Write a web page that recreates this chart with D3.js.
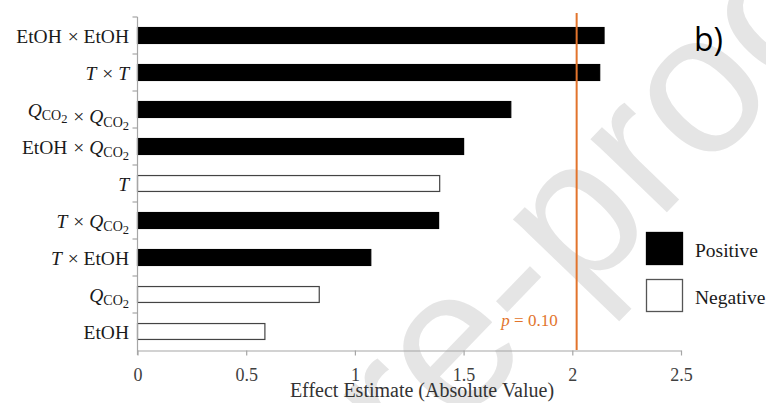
<!DOCTYPE html>
<html>
<head>
<meta charset="utf-8">
<script src="https://cdn.jsdelivr.net/npm/d3@7"></script>
<style>
  html, body { margin: 0; padding: 0; background: #fff; }
  svg { display: block; }
</style>
</head>
<body>
<svg id="chart" width="766" height="403"></svg>
<script>
// Pareto-style chart of effect estimates (absolute value), top to bottom
const terms = ["EtOH×EtOH", "T×T", "Q×Q", "EtOH×Q", "T", "T×Q", "T×EtOH", "Q", "EtOH"];
const effects = [2.146, 2.126, 1.717, 1.50, 1.39, 1.385, 1.073, 0.836, 0.586];
const signs = ["Positive", "Positive", "Positive", "Positive", "Negative", "Positive", "Positive", "Negative", "Negative"];
const xTicks = [0, 0.5, 1, 1.5, 2, 2.5];
const xTickLabels = ["0", "0.5", "1", "1.5", "2", "2.5"];
const threshold = 2.02;          // effect value at p = 0.10
const legendItems = ["Positive", "Negative"];

const svg = d3.select("#chart");
const orange = "#E2742C";
const serifStack = "'Liberation Serif', Tinos, 'DejaVu Serif', serif";
const labelSize = 19.5;

// faint diagonal watermark behind everything
svg.append("text")
  .style("font-family", "'Liberation Sans', Arial, sans-serif")
  .attr("transform", "translate(360,530) rotate(-46)")
  .attr("text-anchor", "middle")
  .attr("font-size", 200)
  .attr("fill", "#e5e5e5")
  .text("Journal Pre-proof");

const x = d3.scaleLinear().domain([0, 2.5]).range([137.5, 681]);
const y = d3.scaleBand().domain(terms).range([17, 350]).paddingInner(0.57).paddingOuter(0.285);

// bars
svg.append("g").selectAll("rect").data(terms).join("rect")
  .attr("x", x(0))
  .attr("y", d => y(d))
  .attr("width", (d, i) => x(effects[i]) - x(0))
  .attr("height", y.bandwidth())
  .attr("fill", (d, i) => signs[i] === "Positive" ? "#000" : "#fff")
  .attr("stroke", (d, i) => signs[i] === "Positive" ? "#000" : "#444")
  .attr("stroke-width", 1.2);

// x axis
const xAxis = svg.append("g")
  .attr("transform", `translate(0,${350.5})`)
  .call(d3.axisBottom(x).tickValues(xTicks).tickFormat((d, i) => xTickLabels[i]).tickSize(5).tickSizeOuter(0));
xAxis.attr("font-family", serifStack).attr("font-size", 18);
xAxis.select(".domain").attr("stroke", "#a6a6a6").attr("stroke-width", 1.2);
xAxis.selectAll(".tick line").attr("stroke", "#a6a6a6").attr("stroke-width", 1.2);
xAxis.selectAll(".tick text")
  .style("font-family", serifStack).attr("fill", "#404040").attr("dy", "1.25em");

// y axis: ticks at category boundaries
const boundaries = d3.range(terms.length + 1).map(i => 17 + i * y.step());
const yLine = svg.append("g");
yLine.append("line")
  .attr("x1", x(0)).attr("x2", x(0))
  .attr("y1", boundaries[0]).attr("y2", 355)
  .attr("stroke", "#a6a6a6").attr("stroke-width", 1.2);
yLine.selectAll("line.tk").data(boundaries.slice(0, -1)).join("line")
  .attr("class", "tk")
  .attr("x1", x(0) - 5).attr("x2", x(0))
  .attr("y1", d => d).attr("y2", d => d)
  .attr("stroke", "#a6a6a6").attr("stroke-width", 1.2);

// category labels with italic symbols and subscripts
const labels = svg.append("g")
  .style("font-family", serifStack)
  .attr("font-size", labelSize).attr("fill", "#1a1a1a")
  .attr("text-anchor", "end");

function addQ(t) {
  t.append("tspan").attr("font-style", "italic").text("Q");
  t.append("tspan").attr("font-size", 14).attr("dy", 3.5).text("CO");
  t.append("tspan").attr("font-size", 12.5).attr("dy", 3).text("2");
  t.append("tspan").attr("font-size", labelSize).attr("dy", -6.5).text("");
}
function addPart(t, p) {
  if (p === "Q") addQ(t);
  else if (p === "T") t.append("tspan").attr("font-style", "italic").text("T");
  else t.append("tspan").text(p);
}

terms.forEach(term => {
  const t = labels.append("text")
    .attr("x", 129)
    .attr("y", y(term) + y.bandwidth() / 2 + 7);
  const parts = term.split("×");
  parts.forEach((p, k) => {
    if (k > 0) t.append("tspan").attr("dx", 1).text(" × ").append("tspan").attr("dx", 1).text("");
    addPart(t, p);
  });
});

// threshold line at p = 0.10
svg.append("line")
  .attr("x1", x(threshold)).attr("x2", x(threshold))
  .attr("y1", 13).attr("y2", 350)
  .attr("stroke", orange).attr("stroke-width", 2);
const pl = svg.append("text")
  .style("font-family", serifStack)
  .attr("x", x(threshold) - 19).attr("y", 326)
  .attr("text-anchor", "end")
  .attr("font-size", 17).attr("fill", orange);
pl.append("tspan").attr("font-style", "italic").text("p");
pl.append("tspan").text(" = 0.10");

// legend
const lg = svg.append("g");
legendItems.forEach((name, i) => {
  lg.append("rect")
    .attr("x", 646.5).attr("y", 232.5 + i * 47)
    .attr("width", 36).attr("height", 32)
    .attr("fill", name === "Positive" ? "#000" : "#fff")
    .attr("stroke", name === "Positive" ? "#000" : "#555")
    .attr("stroke-width", 1.3);
  lg.append("text")
    .style("font-family", serifStack)
    .attr("x", 695).attr("y", 257 + i * 47)
    .attr("font-size", 19.5).attr("fill", "#1a1a1a")
    .text(name);
});

// axis title
svg.append("text")
  .style("font-family", serifStack)
  .attr("x", 422).attr("y", 397)
  .attr("text-anchor", "middle")
  .attr("font-size", 20).attr("fill", "#333")
  .text("Effect Estimate (Absolute Value)");

// panel tag
svg.append("text")
  .attr("x", 694).attr("y", 51)
  .style("font-family", "'Open Sans', 'Liberation Sans', sans-serif")
  .attr("font-size", 32).attr("fill", "#000")
  .text("b)");
</script>
</body>
</html>
